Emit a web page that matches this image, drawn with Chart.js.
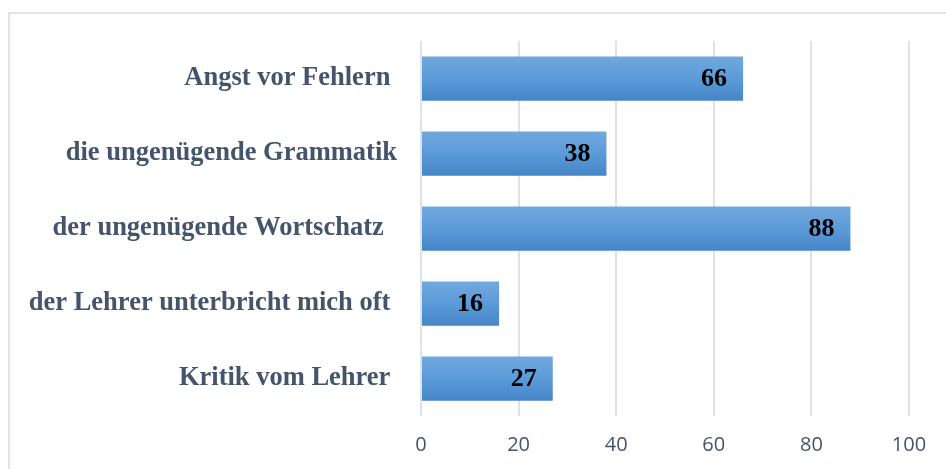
<!DOCTYPE html>
<html>
<head>
<meta charset="utf-8">
<script src="https://cdn.jsdelivr.net/npm/chart.js@4/dist/chart.umd.min.js"></script>
<style>
  html, body { margin: 0; padding: 0; background: #fff; }
  #wrap { position: relative; width: 946px; height: 469px; }
  #frame { position: absolute; left: 8px; top: 12px; right: -10px; bottom: -10px;
           border-left: 2px solid #e1e5ea; border-top: 2px solid #e1e5ea; }
  #myChart { position: absolute; left: 0; top: 0; }
</style>
</head>
<body>
<div id="wrap">
  <div id="frame"></div>
  <canvas id="myChart" width="946" height="469"></canvas>
</div>
<script>
  // categories as in the source (trailing spaces kept)
  const labels = [
    'Angst vor Fehlern ',
    'die ungenügende Grammatik',
    'der ungenügende Wortschatz  ',
    'der Lehrer unterbricht mich oft ',
    'Kritik vom Lehrer ',
  ];
  const values = [66, 38, 88, 16, 27];
  const xTicks = [0, 20, 40, 60, 80, 100];

  const slate = '#44546a';

  // bar fill: light blue on top, darker below
  function barFill(c) {
    const chart = c.chart;
    const y = chart.scales && chart.scales.y;
    if (!y || !chart.chartArea) return '#5b9bd5';
    const py = y.getPixelForValue(c.dataIndex);
    const g = chart.ctx.createLinearGradient(0, py - 22, 0, py + 22);
    g.addColorStop(0, '#71a8dd');
    g.addColorStop(0.5, '#5b9bd9');
    g.addColorStop(1, '#4686c8');
    return g;
  }

  // value labels inside the end of each bar
  const valueLabels = {
    id: 'valueLabels',
    afterDatasetsDraw(chart) {
      const ctx = chart.ctx;
      const meta = chart.getDatasetMeta(0);
      ctx.save();
      ctx.font = 'bold 26px "Liberation Serif", "Times New Roman", serif';
      ctx.fillStyle = '#000';
      ctx.textAlign = 'right';
      ctx.textBaseline = 'middle';
      meta.data.forEach((bar, i) => {
        ctx.fillText(String(values[i]), bar.x - 16, bar.y + 1);
      });
      ctx.restore();
    }
  };

  const config = {
    type: 'bar',
    data: {
      labels: labels,
      datasets: [{
        data: values,
        backgroundColor: barFill,
        borderWidth: 0,
        barPercentage: 0.59,
        categoryPercentage: 1,
      }]
    },
    options: {
      indexAxis: 'y',
      responsive: false,
      animation: false,
      layout: { padding: { top: 41, right: 37, left: 0, bottom: 0 } },
      plugins: {
        legend: { display: false },
        tooltip: { enabled: false },
      },
      scales: {
        x: {
          min: 0,
          max: 100,
          afterBuildTicks: (s) => { s.ticks = xTicks.map(v => ({ value: v })); },
          afterFit: (s) => { s.height = 53; },
          grid: { color: '#dde2e9', lineWidth: 2, drawTicks: false },
          border: { display: false },
          ticks: {
            padding: 17,
            color: slate,
            font: { size: 20, family: '"Open Sans", "Noto Sans", sans-serif' },
          },
        },
        y: {
          afterFit: (s) => { s.width = 421; },
          grid: { display: false, drawTicks: false },
          border: { display: false },
          ticks: {
            padding: 24,
            color: slate,
            font: { size: 26.5, weight: 'bold', family: '"Liberation Serif", "Times New Roman", serif' },
          },
        },
      },
    },
    plugins: [valueLabels],
  };

  const myChart = new Chart(document.getElementById('myChart'), config);
</script>
</body>
</html>
